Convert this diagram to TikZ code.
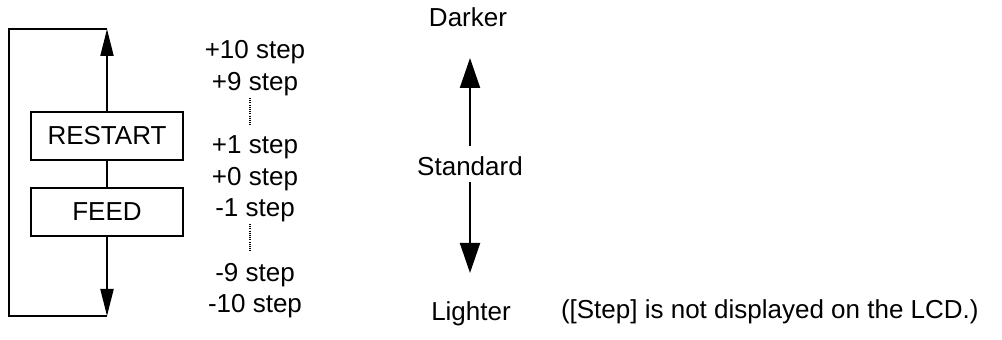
\documentclass[tikz,border=0pt]{standalone}
\usepackage{fontspec}
\setmainfont{Liberation Sans}
\usetikzlibrary{arrows.meta}
\begin{document}
\begin{tikzpicture}[x=0.5pt,y=-0.5pt,line width=1pt,
    every node/.style={font=\fontsize{13}{15}\selectfont},
    keybox/.style={draw,line width=1pt,minimum width=76pt,minimum height=24pt,inner sep=0pt},
    lbl/.style={anchor=base,inner sep=0pt},
    dots/.style={line width=0.6pt,dash pattern=on 0.5pt off 0.6pt},
    smallhead/.style={-{Triangle[length=13.5pt,width=6.5pt]}},
    bighead/.style={-{Triangle[length=15pt,width=10pt]}}]
    \useasboundingbox (0,0) rectangle (1002,340);

    \node[keybox] (restart) at (107,136) {RESTART};
    \node[keybox] (feed) at (107,212) {FEED};
    \coordinate (top) at (107,29);
    \coordinate (bot) at (107,316);
    \draw[smallhead] (restart) -- (top);
    \draw (restart) -- (feed);
    \draw[smallhead] (feed) -- (bot);
    \draw (top) -- (9,29) -- (9,316) -- (bot);

    \foreach \n/\t/\y in {p10/+10 step/59, p9/+9 step/91, p1/+1 step/154, p0/+0 step/186,
                          m1/-1 step/217, m9/-9 step/282, m10/-10 step/313}
        \node[lbl] (\n) at (255,\y) {\t};
    \draw[dots] (250,98) -- (250,125);
    \draw[dots] (250,224) -- (250,251);

    \node[lbl] (darker) at (468,27) {Darker};
    \node[lbl] (standard) at (470,176) {Standard};
    \node[lbl] (lighter) at (471,321) {Lighter};
    \node[lbl,anchor=base west] (note) at (560,319) {([Step] is not displayed on the LCD.)};
    \coordinate (up) at (470,58);
    \coordinate (down) at (470,273);
    \draw[bighead] ([yshift=5pt]standard.north) -- (up);
    \draw[bighead] ([yshift=-2.5pt]standard.south) -- (down);
\end{tikzpicture}
\end{document}
